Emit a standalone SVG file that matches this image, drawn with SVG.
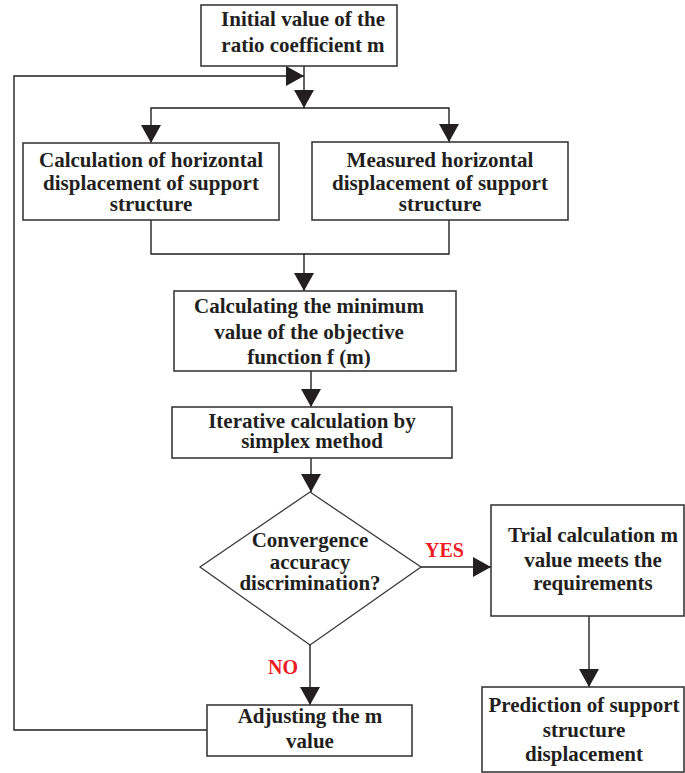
<svg xmlns="http://www.w3.org/2000/svg" width="685" height="773" viewBox="0 0 685 773">
<style>
.box{fill:#fff;stroke:#3a3a3a;stroke-width:1.6}
.ln{fill:none;stroke:#231f20;stroke-width:1.4}
.t{font-family:"Liberation Serif","Times New Roman",serif;font-weight:bold;font-size:21px;fill:#231f20;text-anchor:middle}
.r{font-family:"Liberation Serif","Times New Roman",serif;font-weight:bold;font-size:20px;fill:#ed1c24}
</style>
<defs>
<marker id="ah" viewBox="0 0 18 20" refX="18" refY="10" markerWidth="18" markerHeight="20" markerUnits="userSpaceOnUse" orient="auto">
<path d="M0,0 L18,10 L0,20 z" fill="#231f20"/>
</marker>
</defs>
<rect width="685" height="773" fill="#fff"/>
<g id="connectors">
<path class="ln" d="M304,66 V108" marker-end="url(#ah)"/>
<path class="ln" d="M207,730 H14 V76 H304" marker-end="url(#ah)"/>
<path class="ln" d="M304,108 H151 V143" marker-end="url(#ah)"/>
<path class="ln" d="M304,108 H449 V142" marker-end="url(#ah)"/>
<path class="ln" d="M151,220 V254 H304 V291" marker-end="url(#ah)"/>
<path class="ln" d="M449,220 V254 H304"/>
<path class="ln" d="M311,371 V407" marker-end="url(#ah)"/>
<path class="ln" d="M311,458 V492" marker-end="url(#ah)"/>
<path class="ln" d="M421,567 H491" marker-end="url(#ah)"/>
<path class="ln" d="M310,645 V705" marker-end="url(#ah)"/>
<path class="ln" d="M589,616 V687" marker-end="url(#ah)"/>
<text class="r" x="425" y="557">YES</text>
<text class="r" x="268" y="674">NO</text>
</g>
<g id="n1">
<rect class="box" x="201" y="5" width="196" height="61"/>
<text class="t" x="303" y="26">Initial value of the</text>
<text class="t" x="303" y="52">ratio coefficient m</text>
</g>
<g id="n2">
<rect class="box" x="23" y="143" width="256" height="77"/>
<text class="t" x="151" y="167">Calculation of horizontal</text>
<text class="t" x="151" y="190">displacement of support</text>
<text class="t" x="151" y="211">structure</text>
</g>
<g id="n3">
<rect class="box" x="312" y="142" width="256" height="78"/>
<text class="t" x="440" y="167">Measured horizontal</text>
<text class="t" x="440" y="190">displacement of support</text>
<text class="t" x="440" y="211">structure</text>
</g>
<g id="n4">
<rect class="box" x="174" y="291" width="282" height="80"/>
<text class="t" x="309" y="313">Calculating the minimum</text>
<text class="t" x="309" y="339">value of the objective</text>
<text class="t" x="309" y="364">function f (m)</text>
</g>
<g id="n5">
<rect class="box" x="172" y="407" width="280" height="51"/>
<text class="t" x="312" y="428">Iterative calculation by</text>
<text class="t" x="312" y="448">simplex method</text>
</g>
<g id="n6">
<polygon class="box" points="310,492 421,567 310,645 200,567" style="stroke-width:1.3"/>
<text class="t" x="310" y="547">Convergence</text>
<text class="t" x="310" y="569">accuracy</text>
<text class="t" x="310" y="590">discrimination?</text>
</g>
<g id="n7">
<rect class="box" x="491" y="505" width="193" height="111"/>
<text class="t" x="593" y="542">Trial calculation m</text>
<text class="t" x="593" y="567">value meets the</text>
<text class="t" x="593" y="590">requirements</text>
</g>
<g id="n8">
<rect class="box" x="207" y="705" width="205" height="51"/>
<text class="t" x="310" y="723">Adjusting the m</text>
<text class="t" x="310" y="748">value</text>
</g>
<g id="n9">
<rect class="box" x="482" y="687" width="202" height="85"/>
<text class="t" x="584" y="712">Prediction of support</text>
<text class="t" x="584" y="737">structure</text>
<text class="t" x="584" y="761">displacement</text>
</g>
</svg>
